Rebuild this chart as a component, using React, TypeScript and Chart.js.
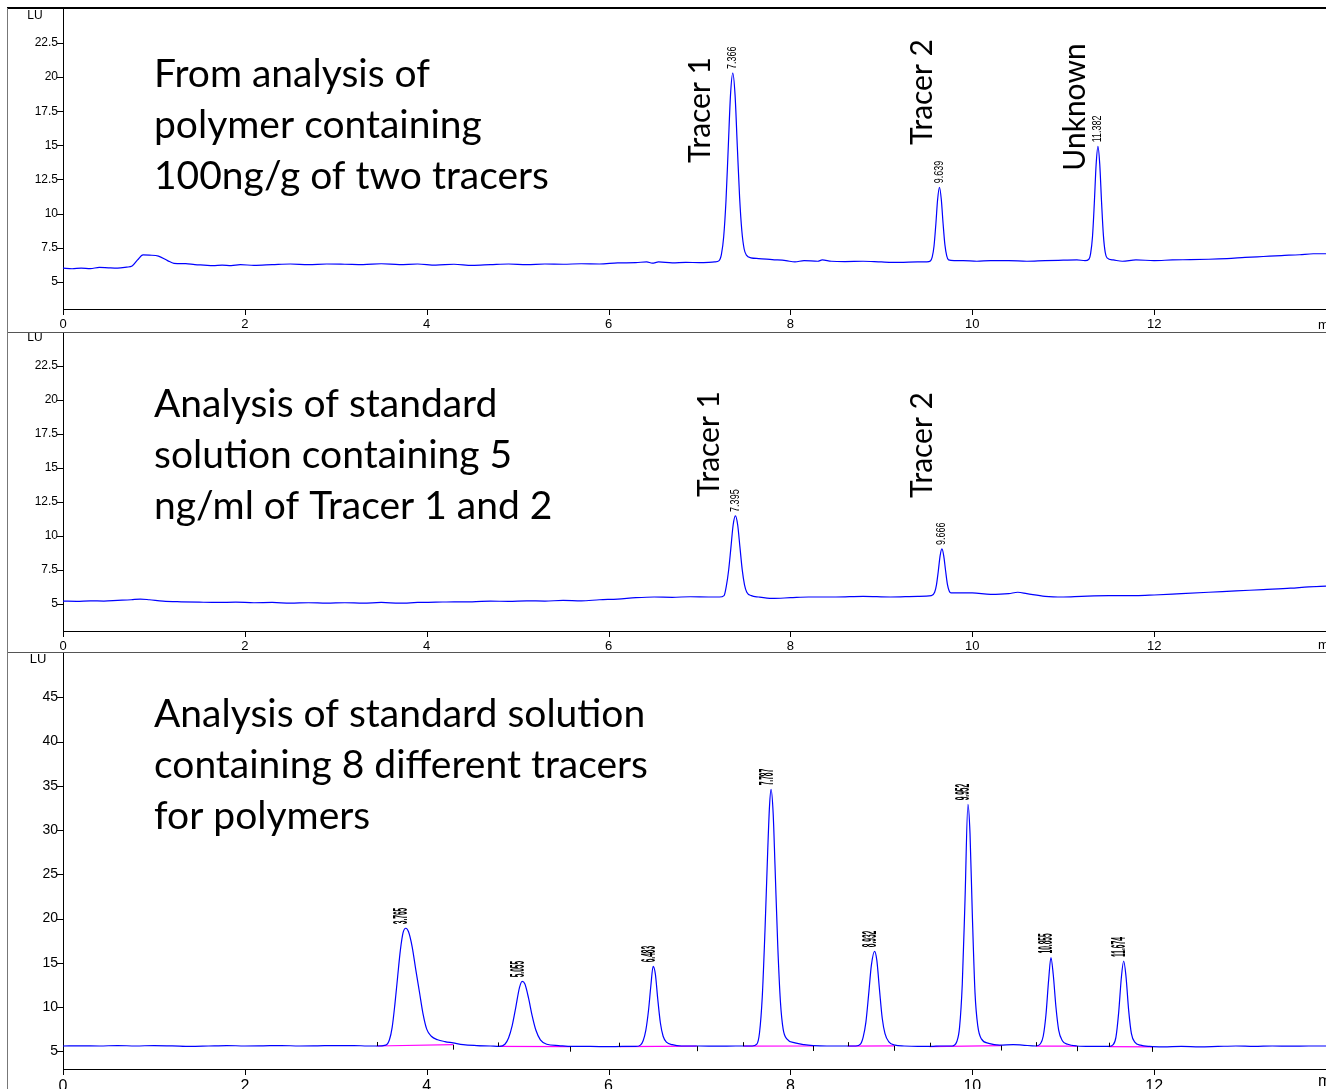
import React, { useEffect, useRef } from "react";
import { Chart, registerables } from "chart.js";

Chart.register(...registerables);

// ---------- DATA ----------
// Panel 1: polymer containing 100 ng/g of two tracers (time [min], signal [LU])
const TRACE_1: [number, number][] = [
  [0, 6.0], [0.1, 5.95], [0.2, 6.0], [0.3, 5.96], [0.4, 6.05], [0.5, 6.02], [0.6, 6.0], [0.7, 6.07],
  [0.76, 6.15], [0.82, 6.6], [0.88, 6.97], [0.95, 6.95], [1.05, 6.88], [1.15, 6.55], [1.22, 6.35],
  [1.35, 6.33], [1.45, 6.25], [1.55, 6.22], [1.65, 6.18], [1.75, 6.22], [1.85, 6.18], [1.95, 6.25],
  [2.1, 6.2], [2.3, 6.25], [2.5, 6.3], [2.7, 6.25], [2.9, 6.3], [3.1, 6.28], [3.3, 6.25], [3.5, 6.32],
  [3.7, 6.25], [3.9, 6.3], [4.1, 6.22], [4.3, 6.28], [4.5, 6.2], [4.7, 6.25], [4.9, 6.3], [5.1, 6.25],
  [5.3, 6.3], [5.5, 6.28], [5.7, 6.32], [5.9, 6.3], [6.1, 6.38], [6.3, 6.4], [6.42, 6.46], [6.48, 6.36],
  [6.55, 6.45], [6.7, 6.38], [6.85, 6.42], [7.0, 6.4], [7.1, 6.42], [7.166, 6.45], [7.216, 6.55],
  [7.241, 7.0], [7.266, 8.3], [7.291, 10.9], [7.316, 14.8], [7.341, 18.7], [7.366, 20.3], [7.391, 18.7],
  [7.416, 14.9], [7.441, 11.2], [7.466, 8.7], [7.491, 7.4], [7.516, 6.95], [7.566, 6.75], [7.65, 6.7],
  [7.8, 6.62], [7.95, 6.55], [8.05, 6.45], [8.15, 6.55], [8.3, 6.5], [8.35, 6.6], [8.45, 6.5], [8.6, 6.48],
  [8.8, 6.5], [9.0, 6.45], [9.2, 6.42], [9.4, 6.45], [9.5, 6.45], [9.539, 6.52], [9.559, 6.8], [9.579, 7.6],
  [9.599, 9.2], [9.619, 11.05], [9.639, 11.93], [9.659, 11.05], [9.679, 9.25], [9.699, 7.7], [9.719, 6.9],
  [9.739, 6.6], [9.8, 6.55], [9.9, 6.55], [10.05, 6.5], [10.2, 6.55], [10.4, 6.55], [10.6, 6.5], [10.8, 6.55],
  [11.0, 6.58], [11.15, 6.6], [11.24, 6.55], [11.282, 6.65], [11.302, 7.1], [11.322, 8.3], [11.342, 10.75],
  [11.362, 13.6], [11.382, 14.93], [11.402, 13.6], [11.422, 10.8], [11.442, 8.4], [11.462, 7.15],
  [11.482, 6.75], [11.55, 6.6], [11.65, 6.5], [11.8, 6.6], [12.0, 6.55], [12.2, 6.6], [12.4, 6.62],
  [12.6, 6.65], [12.8, 6.7], [13.0, 6.78], [13.2, 6.85], [13.4, 6.92], [13.6, 6.98], [13.75, 7.05], [13.89, 7.05],
];
const PEAK_TIMES_1 = [7.366, 9.639, 11.382];
const PEAK_LABELS_1 = ["7.366", "9.639", "11.382"];
const NOTE_1 = ["From analysis of", "polymer containing", "100ng/g of two tracers"];
const NAMES_1 = ["Tracer 1", "Tracer 2", "Unknown"];

// Panel 2: standard solution 5 ng/ml of Tracer 1 and 2
const TRACE_2: [number, number][] = [
  [0, 5.2], [0.15, 5.18], [0.3, 5.22], [0.45, 5.2], [0.6, 5.25], [0.75, 5.3], [0.85, 5.35], [0.95, 5.3],
  [1.1, 5.2], [1.3, 5.15], [1.5, 5.12], [1.7, 5.1], [1.9, 5.12], [2.1, 5.08], [2.3, 5.1], [2.5, 5.05],
  [2.7, 5.08], [2.9, 5.05], [3.1, 5.08], [3.3, 5.05], [3.5, 5.1], [3.7, 5.05], [3.9, 5.1], [4.1, 5.12],
  [4.3, 5.15], [4.5, 5.15], [4.7, 5.2], [4.9, 5.18], [5.1, 5.22], [5.3, 5.2], [5.5, 5.25], [5.7, 5.22],
  [5.9, 5.3], [6.1, 5.35], [6.3, 5.45], [6.5, 5.5], [6.7, 5.48], [6.9, 5.52], [7.1, 5.5], [7.22, 5.5],
  [7.27, 5.6], [7.295, 6.3], [7.32, 7.45], [7.345, 9.1], [7.37, 10.8], [7.395, 11.47], [7.42, 10.8],
  [7.445, 9.15], [7.47, 7.5], [7.495, 6.4], [7.52, 5.85], [7.57, 5.6], [7.65, 5.5], [7.8, 5.4], [8.0, 5.45],
  [8.2, 5.5], [8.5, 5.5], [8.8, 5.55], [9.1, 5.5], [9.4, 5.55], [9.55, 5.6], [9.586, 5.85], [9.606, 6.4],
  [9.626, 7.4], [9.646, 8.53], [9.666, 9.04], [9.686, 8.53], [9.706, 7.45], [9.726, 6.45], [9.746, 5.95],
  [9.766, 5.8], [9.85, 5.8], [10.0, 5.8], [10.2, 5.7], [10.4, 5.75], [10.5, 5.85], [10.6, 5.75], [10.8, 5.55],
  [11.0, 5.5], [11.2, 5.55], [11.5, 5.6], [11.8, 5.6], [12.0, 5.65], [12.3, 5.75], [12.6, 5.85], [12.9, 5.95],
  [13.2, 6.05], [13.5, 6.15], [13.7, 6.25], [13.89, 6.3],
];
const PEAK_TIMES_2 = [7.395, 9.666];
const PEAK_LABELS_2 = ["7.395", "9.666"];
const NOTE_2 = ["Analysis of standard", "solution containing 5", "ng/ml of Tracer 1 and 2"];
const NAMES_2 = ["Tracer 1", "Tracer 2"];

// Panel 3: standard solution with 8 different tracers
const TRACE_3: [number, number][] = [
  [0, 5.6], [0.2, 5.62], [0.4, 5.6], [0.6, 5.65], [0.8, 5.6], [1.0, 5.65], [1.2, 5.62], [1.4, 5.55],
  [1.6, 5.6], [1.8, 5.65], [2.0, 5.6], [2.2, 5.62], [2.4, 5.65], [2.6, 5.6], [2.8, 5.62], [3.0, 5.65],
  [3.2, 5.65], [3.35, 5.6], [3.45, 5.6], [3.55, 5.7], [3.59, 6.3], [3.62, 7.7], [3.65, 10.3], [3.68, 13.4],
  [3.71, 16.4], [3.74, 18.4], [3.77, 18.9], [3.8, 18.5], [3.84, 16.8], [3.88, 14.2], [3.92, 11.7], [3.96, 9.2],
  [4.0, 7.5], [4.05, 6.7], [4.12, 6.3], [4.2, 6.1], [4.29, 5.95], [4.4, 5.75], [4.55, 5.65], [4.7, 5.6],
  [4.8, 5.55], [4.86, 5.8], [4.9, 6.5], [4.94, 7.9], [4.98, 10.0], [5.02, 12.2], [5.05, 12.9], [5.08, 12.6],
  [5.12, 11.0], [5.16, 9.0], [5.2, 7.4], [5.25, 6.3], [5.32, 5.8], [5.45, 5.65], [5.6, 5.55], [5.8, 5.55],
  [6.0, 5.52], [6.15, 5.55], [6.3, 5.55], [6.35, 5.7], [6.38, 6.2], [6.41, 7.4], [6.44, 9.7], [6.465, 12.4],
  [6.49, 14.6], [6.515, 13.7], [6.54, 11.0], [6.57, 8.2], [6.6, 6.7], [6.64, 6.0], [6.7, 5.75], [6.8, 5.6],
  [7.0, 5.6], [7.2, 5.58], [7.4, 5.6], [7.58, 5.6], [7.63, 5.8], [7.66, 7.1], [7.69, 11.1], [7.72, 18.6],
  [7.75, 27.6], [7.77, 32.7], [7.787, 34.6], [7.81, 31.9], [7.83, 26.1], [7.86, 17.1], [7.89, 10.6],
  [7.92, 7.5], [7.96, 6.4], [8.05, 5.95], [8.15, 5.75], [8.25, 5.65], [8.4, 5.6], [8.55, 5.6], [8.72, 5.6],
  [8.77, 5.8], [8.8, 6.6], [8.83, 8.3], [8.86, 11.4], [8.89, 14.7], [8.925, 16.3], [8.95, 15.3], [8.98, 11.9],
  [9.01, 8.7], [9.04, 7.0], [9.08, 6.1], [9.15, 5.7], [9.25, 5.6], [9.4, 5.55], [9.55, 5.55], [9.65, 5.6],
  [9.78, 5.6], [9.83, 6.1], [9.86, 7.7], [9.89, 12.6], [9.92, 22.1], [9.952, 32.9], [9.975, 29.6],
  [10.0, 20.6], [10.03, 11.6], [10.06, 7.9], [10.1, 6.4], [10.18, 5.9], [10.3, 5.7], [10.45, 5.75],
  [10.55, 5.7], [10.7, 5.6], [10.75, 5.85], [10.78, 6.7], [10.81, 9.1], [10.84, 13.1], [10.865, 15.6],
  [10.89, 13.7], [10.92, 10.0], [10.95, 7.4], [10.99, 6.2], [11.05, 5.8], [11.15, 5.6], [11.3, 5.55],
  [11.4, 5.55], [11.5, 5.55], [11.55, 5.75], [11.58, 6.6], [11.61, 9.4], [11.64, 13.4], [11.665, 15.2],
  [11.69, 13.5], [11.72, 9.6], [11.75, 7.0], [11.79, 6.0], [11.85, 5.7], [11.95, 5.55], [12.1, 5.5],
  [12.3, 5.55], [12.5, 5.5], [12.7, 5.55], [12.9, 5.6], [13.1, 5.55], [13.3, 5.6], [13.5, 5.58], [13.7, 5.6],
  [13.89, 5.6],
];
const PEAK_TIMES_3 = [3.77, 5.05, 6.49, 7.787, 8.925, 9.952, 10.865, 11.665];
const PEAK_LABELS_3 = ["3.765", "5.055", "6.483", "7.787", "8.932", "9.952", "10.855", "11.674"];
const INTEG_START_3 = [3.45, 4.78, 6.12, 7.48, 8.63, 9.53, 10.7, 11.5];
const INTEG_START_Y_3 = [5.6, 5.55, 5.52, 5.58, 5.58, 5.52, 5.58, 5.52];
const INTEG_END_3 = [4.29, 5.58, 6.97, 8.25, 9.14, 10.32, 11.15, 11.98];
const INTEG_END_Y_3 = [5.75, 5.52, 5.58, 5.6, 5.62, 5.65, 5.58, 5.5];
const NOTE_3 = ["Analysis of standard solution", "containing 8 different tracers", "for polymers"];

// Axes
const X_MAX = 13.89;
const X_TICK_STEP = 0.5;
const X_LABEL_STEP = 2;
const X_LABEL_MAX = 12;

// ---------- STYLE / LAYOUT ----------
const FONT_AXIS = '"Liberation Sans", Arial, sans-serif';
const FONT_NOTE = 'Lato, "Open Sans", sans-serif';
const W = 1326;

type Pos = { x: number; y: number };
type PanelCfg = {
  trace: [number, number][];
  top: number;
  height: number;
  padTop: number;
  xAxisH: number;
  yMin: number;
  yMax: number;
  yStep: number;
  yLabelStep: number;
  yLabelMin: number;
  yLabelMax: number;
  yFont: number;
  xFont: number;
  xLabelPad: number;
  lu: Pos;
  luFont: number;
  minY: number;
  notes: string[];
  notePos: Pos;
  noteDy: number;
  noteFont: number;
  names: string[];
  namePos: Pos[];
  nameFont: number;
  peakTimes: number[];
  peakLabels: string[];
  peakFont: string;
  peakSqueeze: number;
  peakDx: number;
  peakGap: number;
  integ?: { start: number[]; startY: number[]; end: number[]; endY: number[] };
};

const PANELS: PanelCfg[] = [
  {
    trace: TRACE_1, top: 0, height: 332, padTop: 9, xAxisH: 23,
    yMin: 3, yMax: 25, yStep: 0.5, yLabelStep: 2.5, yLabelMin: 5, yLabelMax: 22.5,
    yFont: 12, xFont: 13, xLabelPad: 8,
    lu: { x: 35, y: 16 }, luFont: 12, minY: 325,
    notes: NOTE_1, notePos: { x: 154, y: 87 }, noteDy: 51, noteFont: 39,
    names: NAMES_1, namePos: [{ x: 700, y: 110 }, { x: 922, y: 92 }, { x: 1075, y: 107 }], nameFont: 30,
    peakTimes: PEAK_TIMES_1, peakLabels: PEAK_LABELS_1, peakFont: "12px " + FONT_AXIS, peakSqueeze: 0.75, peakDx: 0, peakGap: 4,
  },
  {
    trace: TRACE_2, top: 332, height: 320, padTop: 0, xAxisH: 21,
    yMin: 3, yMax: 25, yStep: 0.5, yLabelStep: 2.5, yLabelMin: 5, yLabelMax: 22.5,
    yFont: 12, xFont: 13, xLabelPad: 8,
    lu: { x: 35, y: 6 }, luFont: 12, minY: 313,
    notes: NOTE_2, notePos: { x: 154, y: 85 }, noteDy: 51, noteFont: 39,
    names: NAMES_2, namePos: [{ x: 709, y: 112 }, { x: 922, y: 113 }], nameFont: 30,
    peakTimes: PEAK_TIMES_2, peakLabels: PEAK_LABELS_2, peakFont: "12px " + FONT_AXIS, peakSqueeze: 0.75, peakDx: 0, peakGap: 4,
  },
  {
    trace: TRACE_3, top: 652, height: 437, padTop: 1, xAxisH: 20,
    yMin: 3, yMax: 50, yStep: 1, yLabelStep: 5, yLabelMin: 5, yLabelMax: 45,
    yFont: 14, xFont: 16, xLabelPad: 8,
    lu: { x: 38, y: 7 }, luFont: 13, minY: 430,
    notes: NOTE_3, notePos: { x: 154, y: 75 }, noteDy: 51, noteFont: 39,
    names: [], namePos: [], nameFont: 30,
    peakTimes: PEAK_TIMES_3, peakLabels: PEAK_LABELS_3, peakFont: "bold 20px " + FONT_AXIS, peakSqueeze: 0.33, peakDx: -4, peakGap: 4,
    integ: { start: INTEG_START_3, startY: INTEG_START_Y_3, end: INTEG_END_3, endY: INTEG_END_Y_3 },
  },
];

const near = (v: number, step: number) => {
  const r = v / step;
  return Math.abs(r - Math.round(r)) < 1e-6;
};

function buildChart(canvas: HTMLCanvasElement, p: PanelCfg): Chart {
  const isLabeledY = (v: number) =>
    near(v, p.yLabelStep) && v >= p.yLabelMin - 1e-6 && v <= p.yLabelMax + 1e-6;
  const isLabeledX = (v: number) => near(v, X_LABEL_STEP) && v <= X_LABEL_MAX + 1e-6;

  const datasets: any[] = [
    {
      data: p.trace.map(([x, y]) => ({ x, y })),
      borderColor: "#0000ff",
      borderWidth: 1.2,
      pointRadius: 0,
      cubicInterpolationMode: "monotone",
      fill: false,
      order: 0,
    },
  ];
  if (p.integ) {
    const g = p.integ;
    g.start.forEach((s, i) => {
      datasets.push({
        data: [
          { x: s, y: g.startY[i] },
          { x: g.end[i], y: g.endY[i] },
        ],
        borderColor: "#ff00ff",
        borderWidth: 1.2,
        pointRadius: 0,
        fill: false,
        order: 1,
      });
    });
  }

  const overlay = {
    id: "overlay",
    afterDraw(chart: any) {
      const ctx: CanvasRenderingContext2D = chart.ctx;
      const xs = chart.scales.x;
      const ys = chart.scales.y;
      const a = chart.chartArea;
      ctx.save();
      ctx.strokeStyle = "#000";
      ctx.lineWidth = 1;
      ctx.beginPath();
      for (const t of ys.ticks) {
        const py = Math.round(ys.getPixelForValue(t.value)) + 0.5;
        const len = isLabeledY(t.value) ? 6 : 3;
        ctx.moveTo(a.left - len, py);
        ctx.lineTo(a.left, py);
      }
      for (const t of xs.ticks) {
        const px = Math.round(xs.getPixelForValue(t.value)) + 0.5;
        const len = isLabeledX(t.value) ? 6 : 3;
        ctx.moveTo(px, a.bottom);
        ctx.lineTo(px, a.bottom + len);
      }
      if (p.integ) {
        const g = p.integ;
        g.start.forEach((s, i) => {
          const x1 = Math.round(xs.getPixelForValue(s)) + 0.5;
          const y1 = ys.getPixelForValue(g.startY[i]);
          ctx.moveTo(x1, y1);
          ctx.lineTo(x1, y1 - 4);
          const x2 = Math.round(xs.getPixelForValue(g.end[i])) + 0.5;
          const y2 = ys.getPixelForValue(g.endY[i]);
          ctx.moveTo(x2, y2);
          ctx.lineTo(x2, y2 + 5);
        });
      }
      ctx.stroke();

      ctx.fillStyle = "#000";
      // axis unit labels
      ctx.font = `${p.luFont}px ${FONT_AXIS}`;
      ctx.textAlign = "center";
      ctx.textBaseline = "middle";
      ctx.fillText("LU", p.lu.x, p.lu.y);
      ctx.font = `${p.xFont}px ${FONT_AXIS}`;
      ctx.textAlign = "left";
      ctx.fillText("min", 1318, p.minY);

      // annotation text
      ctx.font = `${p.noteFont}px ${FONT_NOTE}`;
      ctx.textBaseline = "alphabetic";
      p.notes.forEach((line, i) => ctx.fillText(line, p.notePos.x, p.notePos.y + i * p.noteDy));

      // rotated compound names
      p.names.forEach((n, i) => {
        const pos = p.namePos[i];
        ctx.save();
        ctx.translate(pos.x, pos.y);
        ctx.rotate(-Math.PI / 2);
        ctx.font = `${p.nameFont}px ${FONT_NOTE}`;
        ctx.textAlign = "center";
        ctx.textBaseline = "middle";
        ctx.fillText(n, 0, 0);
        ctx.restore();
      });

      // retention-time labels
      p.peakTimes.forEach((t, i) => {
        const pt = p.trace.find((d) => Math.abs(d[0] - t) < 1e-9);
        if (!pt) return;
        const px = xs.getPixelForValue(t) + p.peakDx;
        const py = ys.getPixelForValue(pt[1]) - p.peakGap;
        ctx.save();
        ctx.translate(px, py);
        ctx.rotate(-Math.PI / 2);
        ctx.scale(p.peakSqueeze, 1);
        ctx.font = p.peakFont;
        ctx.textAlign = "left";
        ctx.textBaseline = "middle";
        ctx.fillText(p.peakLabels[i], 0, 0);
        ctx.restore();
      });
      ctx.restore();
    },
  };

  return new Chart(canvas, {
    type: "line",
    data: { datasets },
    options: {
      responsive: false,
      animation: false,
      devicePixelRatio: 1,
      events: [],
      layout: { padding: { top: p.padTop, left: 0, right: 0, bottom: 0 } },
      plugins: { legend: { display: false }, tooltip: { enabled: false }, title: { display: false } },
      scales: {
        x: {
          type: "linear",
          min: 0,
          max: X_MAX,
          afterBuildTicks: (s: any) => {
            s.ticks = s.ticks.filter((t: any) => near(t.value, X_TICK_STEP));
          },
          afterFit: (s: any) => {
            s.height = p.xAxisH;
            s.paddingLeft = 0;
            s.paddingRight = 0;
          },
          grid: { display: false, drawTicks: false },
          border: { display: true, color: "#000", width: 1 },
          ticks: {
            stepSize: X_TICK_STEP,
            autoSkip: false,
            maxRotation: 0,
            minRotation: 0,
            padding: p.xLabelPad,
            color: "#000",
            font: { family: FONT_AXIS, size: p.xFont },
            callback: (v: any) => (isLabeledX(Number(v)) ? String(Number(v)) : null),
          },
        },
        y: {
          type: "linear",
          min: p.yMin,
          max: p.yMax,
          afterFit: (s: any) => {
            s.width = 63;
            s.paddingTop = 0;
            s.paddingBottom = 0;
          },
          grid: { display: false, drawTicks: false },
          border: { display: true, color: "#000", width: 1 },
          ticks: {
            stepSize: p.yStep,
            autoSkip: false,
            padding: 5,
            color: "#000",
            font: { family: FONT_AXIS, size: p.yFont },
            callback: (v: any) => (isLabeledY(Number(v)) ? String(Number(v)) : null),
          },
        },
      },
    } as any,
    plugins: [overlay],
  });
}

export default function App() {
  const r0 = useRef<HTMLCanvasElement>(null);
  const r1 = useRef<HTMLCanvasElement>(null);
  const r2 = useRef<HTMLCanvasElement>(null);
  const refs = [r0, r1, r2];

  useEffect(() => {
    const charts: Chart[] = [];
    PANELS.forEach((p, i) => {
      const c = refs[i].current;
      if (c) charts.push(buildChart(c, p));
    });
    return () => charts.forEach((c) => c.destroy());
  }, []);

  const line = (style: React.CSSProperties) => (
    <div style={{ position: "absolute", ...style }} />
  );

  return (
    <div style={{ position: "absolute", left: 0, top: 0, width: W, height: 1089, background: "#fff", overflow: "hidden" }}>
      {PANELS.map((p, i) => (
        <canvas
          key={i}
          ref={refs[i]}
          width={W}
          height={p.height}
          style={{ position: "absolute", left: 0, top: p.top, width: W, height: p.height }}
        />
      ))}
      {line({ left: 7, top: 7, width: W - 7, height: 2, background: "#000" })}
      {line({ left: 7, top: 332, width: W - 7, height: 1, background: "#555" })}
      {line({ left: 7, top: 652, width: W - 7, height: 1, background: "#555" })}
      {line({ left: 7, top: 8, width: 1, height: 1081, background: "#777" })}
    </div>
  );
}
